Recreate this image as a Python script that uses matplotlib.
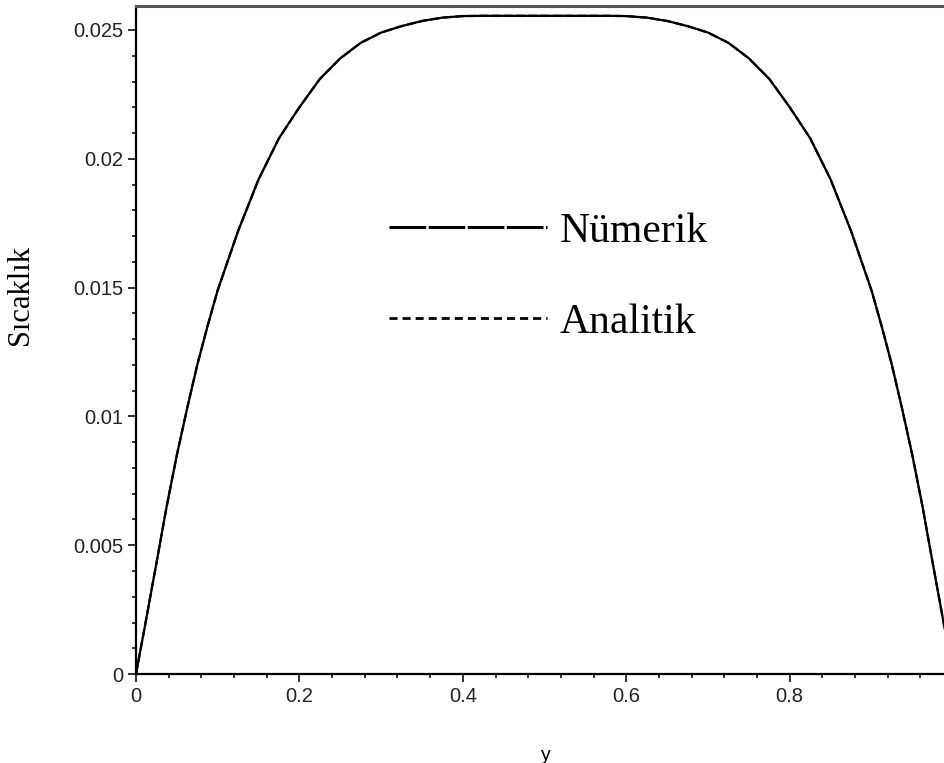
import matplotlib
matplotlib.use('Agg')
import matplotlib.pyplot as plt
from matplotlib.lines import Line2D
from matplotlib.ticker import FixedLocator, FixedFormatter, MultipleLocator

# sıcaklık profili (y konumu - sıcaklık)
y_konum = [0.0, 0.01, 0.025, 0.0375, 0.05, 0.0625, 0.075, 0.0875, 0.1, 0.125,
           0.15, 0.175, 0.2, 0.225, 0.25, 0.275, 0.3, 0.325, 0.35, 0.375,
           0.4, 0.425, 0.45, 0.475, 0.5, 0.525, 0.55, 0.575, 0.6, 0.625,
           0.65, 0.675, 0.7, 0.725, 0.75, 0.775, 0.8, 0.825, 0.85, 0.875,
           0.9, 0.9125, 0.925, 0.9375, 0.95, 0.9625, 0.975, 0.99, 1.0]
sicaklik_numerik = [0.0, 0.0017, 0.0043, 0.0065, 0.0085, 0.0103, 0.0120, 0.0135, 0.0149, 0.0172,
                    0.0192, 0.0208, 0.0220, 0.0231, 0.0239, 0.0245, 0.0249, 0.02515, 0.02535, 0.02548,
                    0.02554, 0.02555, 0.02555, 0.02555, 0.02555, 0.02555, 0.02555, 0.02555, 0.02554, 0.02548,
                    0.02535, 0.02515, 0.0249, 0.0245, 0.0239, 0.0231, 0.0220, 0.0208, 0.0192, 0.0172,
                    0.0149, 0.0135, 0.0120, 0.0103, 0.0085, 0.0065, 0.0043, 0.0017, 0.0]
sicaklik_analitik = [0.0, 0.0017, 0.0043, 0.0065, 0.0085, 0.0103, 0.0120, 0.0135, 0.0149, 0.0172,
                     0.0192, 0.0208, 0.0220, 0.0231, 0.0239, 0.0245, 0.0249, 0.02515, 0.02535, 0.02548,
                     0.02554, 0.02555, 0.02555, 0.02555, 0.02555, 0.02555, 0.02555, 0.02555, 0.02554, 0.02548,
                     0.02535, 0.02515, 0.0249, 0.0245, 0.0239, 0.0231, 0.0220, 0.0208, 0.0192, 0.0172,
                     0.0149, 0.0135, 0.0120, 0.0103, 0.0085, 0.0065, 0.0043, 0.0017, 0.0]

x_ticks = [0, 0.2, 0.4, 0.6, 0.8]
x_tick_labels = ['0', '0.2', '0.4', '0.6', '0.8']
y_ticks = [0, 0.005, 0.01, 0.015, 0.02, 0.025]
y_tick_labels = ['0', '0.005', '0.01', '0.015', '0.02', '0.025']

fig = plt.figure(figsize=(9.45, 7.63), dpi=100)
ax = fig.add_axes([0.1439, 0.1166, 0.8561, 0.8755])

ax.plot(y_konum, sicaklik_numerik, color='black', lw=1.6, solid_capstyle='butt')
ax.plot(y_konum, sicaklik_analitik, color='black', lw=1.6, dashes=(4, 1.5))

ax.set_xlim(0, 0.99)
ax.set_ylim(0, 0.02593)

ax.xaxis.set_major_locator(FixedLocator(x_ticks))
ax.xaxis.set_major_formatter(FixedFormatter(x_tick_labels))
ax.xaxis.set_minor_locator(MultipleLocator(0.04))
ax.yaxis.set_major_locator(FixedLocator(y_ticks))
ax.yaxis.set_major_formatter(FixedFormatter(y_tick_labels))
ax.yaxis.set_minor_locator(MultipleLocator(0.001))

for lbl in ax.get_xticklabels() + ax.get_yticklabels():
    lbl.set_fontfamily('Liberation Sans')
    lbl.set_fontsize(14.5)
    lbl.set_color('#222222')

ax.tick_params(which='major', direction='out', length=6, width=1.3, pad=3, colors='#222222')
ax.tick_params(which='minor', direction='out', length=3, width=1.3, colors='#222222')

for side in ['left', 'bottom']:
    ax.spines[side].set_color('black')
    ax.spines[side].set_linewidth(1.6)
ax.spines['top'].set_color('#555555')
ax.spines['top'].set_linewidth(2.2)
ax.spines['right'].set_visible(False)

ax.set_xlabel('y', fontfamily='Liberation Sans', fontsize=14)
ax.xaxis.set_label_coords(0.506, -0.109)
ax.set_ylabel('Sıcaklık', fontfamily='Liberation Serif', fontsize=22)
ax.yaxis.set_label_coords(-0.125, 0.567)

handles = [Line2D([], [], color='black', lw=2.2, dashes=(12, 0.8)),
           Line2D([], [], color='black', lw=2.0, dashes=(2.9, 1.8))]
leg = ax.legend(handles, ['Nümerik', 'Analitik'], loc='upper left',
                bbox_to_anchor=(0.287, 0.722), frameon=False, borderpad=0,
                handlelength=3.8, handletextpad=0.29, labelspacing=1.25,
                prop={'family': 'Liberation Serif', 'size': 30})

fig.savefig('out.png', dpi=100)
